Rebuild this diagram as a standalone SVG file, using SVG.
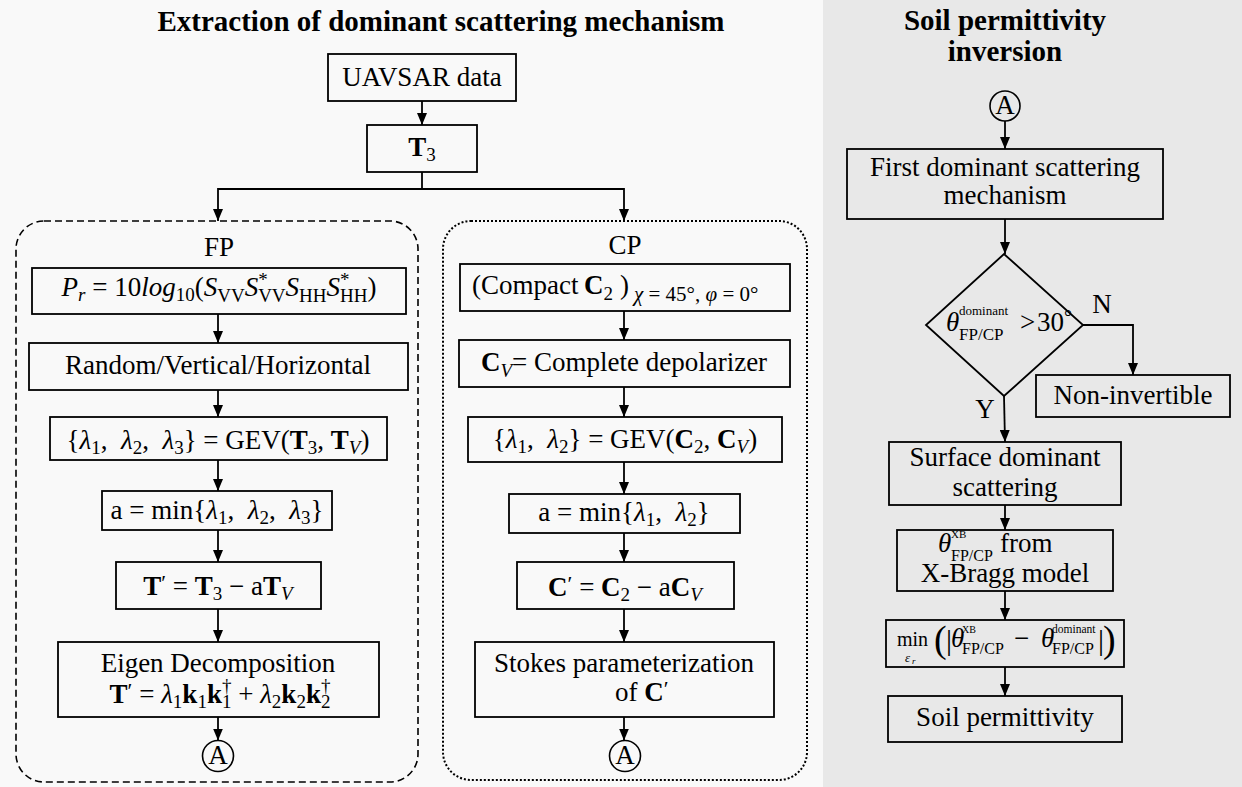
<svg xmlns="http://www.w3.org/2000/svg" width="1242" height="787" viewBox="0 0 1242 787">
<defs>
<style>
.t{font-family:"Liberation Serif","DejaVu Serif",serif;font-size:27px;fill:#000}
.c{text-anchor:middle}
.i{font-style:italic}
.b{font-weight:bold}
.s{font-size:19px}
.h{font-family:"Liberation Serif","DejaVu Serif",serif;font-size:29px;font-weight:bold;text-anchor:middle;fill:#000}
.box{fill:none;stroke:#000;stroke-width:1.8}
.conn path{fill:none;stroke:#000;stroke-width:1.8;marker-end:url(#ah)}
</style>
<marker id="ah" viewBox="0 0 12 10" markerWidth="12" markerHeight="10" refX="12" refY="5" orient="auto" markerUnits="userSpaceOnUse">
<path d="M0,0 L12,5 L0,10 z" fill="#000"/>
</marker>
</defs>

<rect x="0" y="0" width="823" height="787" fill="#f9f9f9"/>
<rect x="823" y="0" width="419" height="787" fill="#e8e8e8"/>

<text class="h" x="441" y="31">Extraction of dominant scattering mechanism</text>
<text class="h" x="1005" y="30">Soil permittivity</text>
<text class="h" x="1005" y="61">inversion</text>

<g id="fp-group">
<rect x="16" y="221" width="402" height="561" rx="28" fill="none" stroke="#000" stroke-width="1.6" stroke-dasharray="7 4"/>
<text class="t c" x="219" y="256" font-size="32">FP</text>
</g>
<g id="cp-group">
<rect x="443" y="221" width="364" height="559" rx="28" fill="none" stroke="#000" stroke-width="2" stroke-dasharray="2 2"/>
<text class="t c" x="625" y="254" font-size="32">CP</text>
</g>

<g id="uavsar">
<rect class="box" x="328" y="54" width="188" height="47"/>
<text class="t c" x="422" y="86">UAVSAR data</text>
</g>
<g id="t3">
<rect class="box" x="367" y="125" width="110" height="47"/>
<text class="t c" x="422" y="156"><tspan class="b">T</tspan><tspan class="s" dy="5">3</tspan></text>
</g>

<g id="fp-pr">
<rect class="box" x="32" y="268" width="374" height="46"/>
<text class="t c" x="219" y="296"><tspan class="i">P</tspan><tspan class="s i" dy="5">r</tspan><tspan dy="-5"> = 10</tspan><tspan class="i">log</tspan><tspan class="s" dy="5">10</tspan><tspan dy="-5">(</tspan><tspan class="i">S</tspan><tspan class="s" dy="6">VV</tspan><tspan class="i" dy="-6">S</tspan><tspan class="s" dy="-10">*</tspan><tspan class="s" dx="-9.5" dy="16">VV</tspan><tspan class="i" dy="-6">S</tspan><tspan class="s" dy="6">HH</tspan><tspan class="i" dy="-6">S</tspan><tspan class="s" dy="-10">*</tspan><tspan class="s" dx="-9.5" dy="16">HH</tspan><tspan dy="-6">)</tspan></text>
</g>
<g id="fp-random">
<rect class="box" x="29" y="343" width="379" height="47"/>
<text class="t c" x="218" y="374">Random/Vertical/Horizontal</text>
</g>
<g id="fp-gev">
<rect class="box" x="50" y="417" width="337" height="43"/>
<text class="t c" x="218" y="449">{<tspan class="i">λ</tspan><tspan class="s" dy="5">1</tspan><tspan dy="-5">,&#160; </tspan><tspan class="i">λ</tspan><tspan class="s" dy="5">2</tspan><tspan dy="-5">,&#160; </tspan><tspan class="i">λ</tspan><tspan class="s" dy="5">3</tspan><tspan dy="-5">} = GEV(</tspan><tspan class="b">T</tspan><tspan class="s" dy="5">3</tspan><tspan dy="-5">, </tspan><tspan class="b">T</tspan><tspan class="s i" dy="5">V</tspan><tspan dy="-5">)</tspan></text>
</g>
<g id="fp-amin">
<rect class="box" x="102" y="491" width="230" height="39"/>
<text class="t c" x="217" y="519">a = min{<tspan class="i">λ</tspan><tspan class="s" dy="5">1</tspan><tspan dy="-5">,&#160; </tspan><tspan class="i">λ</tspan><tspan class="s" dy="5">2</tspan><tspan dy="-5">,&#160; </tspan><tspan class="i">λ</tspan><tspan class="s" dy="5">3</tspan><tspan dy="-5">}</tspan></text>
</g>
<g id="fp-tprime">
<rect class="box" x="116" y="562" width="205" height="47"/>
<text class="t c" x="218" y="595"><tspan class="b">T</tspan><tspan font-size="22" dy="-5">′</tspan><tspan dy="5"> = </tspan><tspan class="b">T</tspan><tspan class="s" dy="5">3</tspan><tspan dy="-5"> − a</tspan><tspan class="b">T</tspan><tspan class="s i" dy="5">V</tspan></text>
</g>
<g id="fp-eigen">
<rect class="box" x="58" y="642" width="321" height="75"/>
<text class="t c" x="218" y="672">Eigen Decomposition</text>
<text class="t c" x="220" y="703"><tspan class="b">T</tspan><tspan font-size="22" dy="-5">′</tspan><tspan dy="5"> = </tspan><tspan class="i">λ</tspan><tspan class="s" dy="5">1</tspan><tspan class="b" dy="-5">k</tspan><tspan class="s" dy="5">1</tspan><tspan class="b" dy="-5">k</tspan><tspan class="s" dy="5">1</tspan><tspan class="s" dx="-9.5" dy="-16">†</tspan><tspan dy="11"> + </tspan><tspan class="i">λ</tspan><tspan class="s" dy="5">2</tspan><tspan class="b" dy="-5">k</tspan><tspan class="s" dy="5">2</tspan><tspan class="b" dy="-5">k</tspan><tspan class="s" dy="5">2</tspan><tspan class="s" dx="-9.5" dy="-16">†</tspan></text>
</g>
<g id="fp-a">
<circle cx="218" cy="756" r="15.5" fill="none" stroke="#000" stroke-width="1.6"/>
<text class="t c" x="218" y="764" font-size="23">A</text>
</g>

<g id="cp-compact">
<rect class="box" x="460" y="264" width="330" height="47"/>
<text class="t" y="294"><tspan x="472">(Compact</tspan><tspan x="584" class="b">C</tspan><tspan class="s" dy="6">2</tspan><tspan x="620" dy="-6">)</tspan><tspan x="634" y="301" font-size="21"><tspan class="i">χ</tspan> = 45°, <tspan class="i">φ</tspan> = 0°</tspan></text>
</g>
<g id="cp-cv">
<rect class="box" x="459" y="340" width="331" height="47"/>
<text class="t c" x="624" y="371"><tspan class="b">C</tspan><tspan class="s i" dy="6">V</tspan><tspan dy="-6">= Complete depolarizer</tspan></text>
</g>
<g id="cp-gev">
<rect class="box" x="468" y="417" width="314" height="45"/>
<text class="t c" x="625" y="448">{<tspan class="i">λ</tspan><tspan class="s" dy="5">1</tspan><tspan dy="-5">,&#160; </tspan><tspan class="i">λ</tspan><tspan class="s" dy="5">2</tspan><tspan dy="-5">} = GEV(</tspan><tspan class="b">C</tspan><tspan class="s" dy="5">2</tspan><tspan dy="-5">, </tspan><tspan class="b">C</tspan><tspan class="s i" dy="5">V</tspan><tspan dy="-5">)</tspan></text>
</g>
<g id="cp-amin">
<rect class="box" x="509" y="494" width="231" height="39"/>
<text class="t c" x="624" y="521">a = min{<tspan class="i">λ</tspan><tspan class="s" dy="5">1</tspan><tspan dy="-5">,&#160; </tspan><tspan class="i">λ</tspan><tspan class="s" dy="5">2</tspan><tspan dy="-5">}</tspan></text>
</g>
<g id="cp-cprime">
<rect class="box" x="517" y="562" width="217" height="47"/>
<text class="t c" x="625" y="596"><tspan class="b">C</tspan><tspan font-size="22" dy="-5">′</tspan><tspan dy="5"> = </tspan><tspan class="b">C</tspan><tspan class="s" dy="5">2</tspan><tspan dy="-5"> − a</tspan><tspan class="b">C</tspan><tspan class="s i" dy="5">V</tspan></text>
</g>
<g id="cp-stokes">
<rect class="box" x="475" y="642" width="299" height="75"/>
<text class="t c" x="624" y="672">Stokes parameterization</text>
<text class="t" x="615" y="701">of <tspan class="b">C</tspan><tspan font-size="22" dy="-5">′</tspan></text>
</g>
<g id="cp-a">
<circle cx="625" cy="756" r="15.5" fill="none" stroke="#000" stroke-width="1.6"/>
<text class="t c" x="625" y="764" font-size="23">A</text>
</g>

<g id="sp-a">
<circle cx="1005" cy="106" r="15" fill="none" stroke="#000" stroke-width="1.6"/>
<text class="t c" x="1005" y="114" font-size="23">A</text>
</g>
<g id="sp-first">
<rect class="box" x="847" y="149" width="316" height="70"/>
<text class="t c" x="1005" y="176">First dominant scattering</text>
<text class="t c" x="1005" y="204">mechanism</text>
</g>
<g id="sp-decision">
<polygon class="box" points="1004,254 1083,325 1004,396 926,325"/>
<text class="t"><tspan class="i" x="946" y="331">θ</tspan><tspan x="959" y="315" font-size="13">dominant</tspan><tspan x="959" y="340" font-size="17">FP/CP</tspan><tspan x="1020" y="331">&gt;</tspan><tspan x="1037" y="331">30</tspan><tspan x="1064" y="324" font-size="20">°</tspan></text>
</g>
<g id="sp-noninv">
<rect class="box" x="1036" y="375" width="194" height="42"/>
<text class="t c" x="1133" y="404">Non-invertible</text>
</g>
<g id="sp-surface">
<rect class="box" x="889" y="442" width="232" height="63"/>
<text class="t c" x="1005" y="466">Surface dominant</text>
<text class="t c" x="1005" y="496">scattering</text>
</g>
<g id="sp-xbragg">
<rect class="box" x="897" y="530" width="216" height="61"/>
<text class="t"><tspan class="i" x="938" y="552">θ</tspan><tspan x="951" y="538" font-size="11">XB</tspan><tspan x="951" y="561" font-size="16">FP/CP</tspan><tspan x="1000" y="552">from</tspan></text>
<text class="t c" x="1005" y="582">X-Bragg model</text>
</g>
<g id="sp-min">
<rect class="box" x="886" y="620" width="238" height="47"/>
<text class="t" font-size="22"><tspan x="897" y="646" font-size="20">min</tspan><tspan class="i" x="905" y="662" font-size="13">ε</tspan><tspan class="i" x="912" y="664" font-size="9">r</tspan><tspan x="934" y="652" font-size="38">(</tspan><tspan x="946" y="650" font-size="30">|</tspan><tspan class="i" x="951" y="647">θ</tspan><tspan x="962" y="633" font-size="10">XB</tspan><tspan x="962" y="654" font-size="16">FP/CP</tspan><tspan x="1014" y="647">−</tspan><tspan class="i" x="1041" y="647">θ</tspan><tspan x="1052" y="633" font-size="11.5">dominant</tspan><tspan x="1052" y="654" font-size="16">FP/CP</tspan><tspan x="1098" y="650" font-size="30">|</tspan><tspan x="1103" y="652" font-size="38">)</tspan></text>
</g>
<g id="sp-soil">
<rect class="box" x="888" y="696" width="234" height="46"/>
<text class="t c" x="1005" y="726">Soil permittivity</text>
</g>

<g id="connectors" class="conn">
<path d="M422,101 V125"/>
<path d="M422,172 V189 H218 V221"/>
<path d="M422,189 H624 V221"/>
<path d="M218,314 V343"/>
<path d="M218,390 V417"/>
<path d="M218,460 V491"/>
<path d="M218,530 V562"/>
<path d="M218,609 V642"/>
<path d="M218,717 V740.5"/>
<path d="M624,311 V340"/>
<path d="M624,387 V417"/>
<path d="M624,462 V494"/>
<path d="M624,533 V562"/>
<path d="M624,609 V642"/>
<path d="M624,717 V740.5"/>
<path d="M1005,121 V149"/>
<path d="M1005,219 V254"/>
<path d="M1083,325 H1133 V375"/>
<path d="M1004,396 L1005,442"/>
<path d="M1005,505 V530"/>
<path d="M1005,591 V620"/>
<path d="M1005,667 V696"/>
<text class="t c" x="1102" y="313">N</text>
<text class="t c" x="985" y="418">Y</text>
</g>
</svg>
